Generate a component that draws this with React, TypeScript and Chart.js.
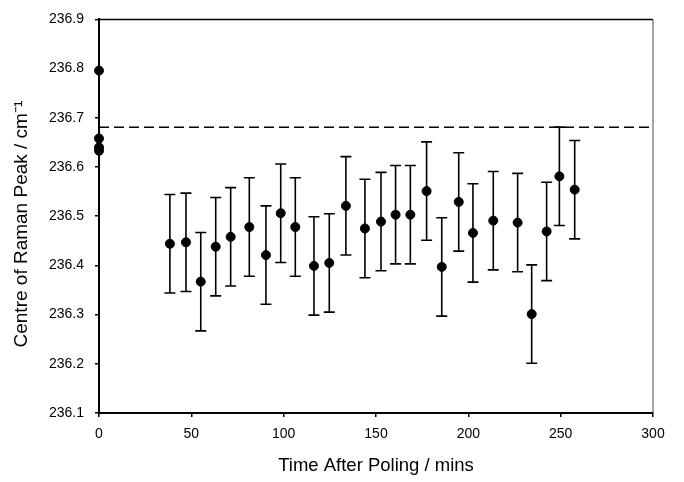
import React, { useEffect, useRef } from 'react';
import { Chart, registerables } from 'chart.js';

Chart.register(...registerables);

const times = [0, 0, 0, 0, 38.4, 47.1, 55.1, 63.2, 71.3, 81.4, 90.4, 98.4, 106.3, 116.4, 124.7, 133.7, 144, 152.7, 160.6, 168.6, 177.4, 185.6, 194.8, 202.5, 213.5, 226.7, 234.3, 242.4, 249.3, 257.6];
const values = [236.796, 236.658, 236.640, 236.633, 236.444, 236.447, 236.367, 236.438, 236.458, 236.478, 236.421, 236.506, 236.478, 236.399, 236.405, 236.521, 236.475, 236.489, 236.503, 236.503, 236.551, 236.397, 236.529, 236.466, 236.491, 236.487, 236.301, 236.469, 236.581, 236.554];
const errors = [0, 0, 0, 0, 0.1, 0.1, 0.1, 0.1, 0.1, 0.1, 0.1, 0.1, 0.1, 0.1, 0.1, 0.1, 0.1, 0.1, 0.1, 0.1, 0.1, 0.1, 0.1, 0.1, 0.1, 0.1, 0.1, 0.1, 0.1, 0.1];
const referenceLevel = 236.681;
const xTicks = [0, 50, 100, 150, 200, 250, 300];
const yTicks = [236.1, 236.2, 236.3, 236.4, 236.5, 236.6, 236.7, 236.8, 236.9];

const FONT = '"Liberation Sans", Arial, Helvetica, sans-serif';

const extrasPlugin = {
  id: 'extras',
  beforeDatasetsDraw(chart: any) {
    const { ctx, chartArea, scales } = chart;
    const xs = scales.x;
    const ys = scales.y;
    ctx.save();
    ctx.strokeStyle = '#000';
    ctx.lineWidth = 1.5;
    ctx.beginPath();
    ctx.moveTo(chartArea.left, chartArea.top);
    ctx.lineTo(chartArea.right, chartArea.top);
    ctx.stroke();
    ctx.strokeStyle = '#444';
    ctx.lineWidth = 1;
    ctx.beginPath();
    ctx.moveTo(chartArea.right, chartArea.top);
    ctx.lineTo(chartArea.right, chartArea.bottom);
    ctx.stroke();
    const yr = ys.getPixelForValue(referenceLevel);
    ctx.strokeStyle = '#000';
    ctx.lineWidth = 1.5;
    ctx.setLineDash([10, 5]);
    ctx.beginPath();
    ctx.moveTo(chartArea.left, yr);
    ctx.lineTo(chartArea.right, yr);
    ctx.stroke();
    ctx.setLineDash([]);
    ctx.lineWidth = 1.6;
    ctx.strokeStyle = '#000';
    for (let i = 0; i < times.length; i++) {
      if (!errors[i]) continue;
      const px = xs.getPixelForValue(times[i]);
      const y1 = ys.getPixelForValue(values[i] + errors[i]);
      const y2 = ys.getPixelForValue(values[i] - errors[i]);
      ctx.beginPath();
      ctx.moveTo(px, y1);
      ctx.lineTo(px, y2);
      ctx.moveTo(px - 5.5, y1);
      ctx.lineTo(px + 5.5, y1);
      ctx.moveTo(px - 5.5, y2);
      ctx.lineTo(px + 5.5, y2);
      ctx.stroke();
    }
    ctx.restore();
  },
};

export default function App() {
  const ref = useRef<HTMLCanvasElement>(null);
  useEffect(() => {
    if (!ref.current) return;
    const chart = new Chart(ref.current, {
      type: 'scatter',
      data: {
        datasets: [
          {
            data: times.map((t, i) => ({ x: t, y: values[i] })),
            backgroundColor: '#000',
            borderColor: '#000',
            pointRadius: 4.5,
            pointHoverRadius: 4.5,
            clip: false as any,
          },
        ],
      },
      options: {
        animation: false,
        responsive: false,
        events: [],
        layout: { padding: { top: 13, right: 31, left: 0, bottom: 0 } },
        plugins: { legend: { display: false }, tooltip: { enabled: false } },
        scales: {
          x: {
            type: 'linear',
            min: 0,
            max: 300,
            afterBuildTicks: (s: any) => {
              s.ticks = xTicks.map((v) => ({ value: v }));
            },
            afterFit: (s: any) => {
              s.height = 69;
            },
            ticks: { color: '#000', font: { family: FONT, size: 14 }, padding: 9, maxRotation: 0 },
            grid: { drawOnChartArea: false, drawTicks: true, tickLength: 4, color: '#000', lineWidth: 1.5 },
            border: { color: '#000', width: 2 },
            title: {
              display: true,
              text: 'Time After Poling / mins',
              color: '#000',
              font: { family: FONT, size: 18.5 },
              padding: { top: 5, bottom: 5 },
            },
          },
          y: {
            type: 'linear',
            min: 236.1,
            max: 236.9,
            afterBuildTicks: (s: any) => {
              s.ticks = yTicks.map((v) => ({ value: v }));
            },
            afterFit: (s: any) => {
              s.width = 99;
            },
            ticks: {
              color: '#000',
              font: { family: FONT, size: 14 },
              padding: 11,
              callback: (v: any) => Number(v).toFixed(1),
            },
            grid: { drawOnChartArea: false, drawTicks: true, tickLength: 4, color: '#000', lineWidth: 1.5 },
            border: { color: '#000', width: 2 },
            title: {
              display: true,
              text: 'Centre of Raman Peak / cm\u207B\u00B9\u00A0\u00A0\u00A0',
              color: '#000',
              font: { family: FONT, size: 19 },
              padding: { top: 10.5, bottom: 10.5 },
            },
          },
        },
      },
      plugins: [extrasPlugin],
    });
    return () => chart.destroy();
  }, []);
  return (
    <div style={{ position: 'absolute', left: 0, top: 0, width: 684, height: 482 }}>
      <canvas ref={ref} width={684} height={482} style={{ display: 'block' }} />
    </div>
  );
}
